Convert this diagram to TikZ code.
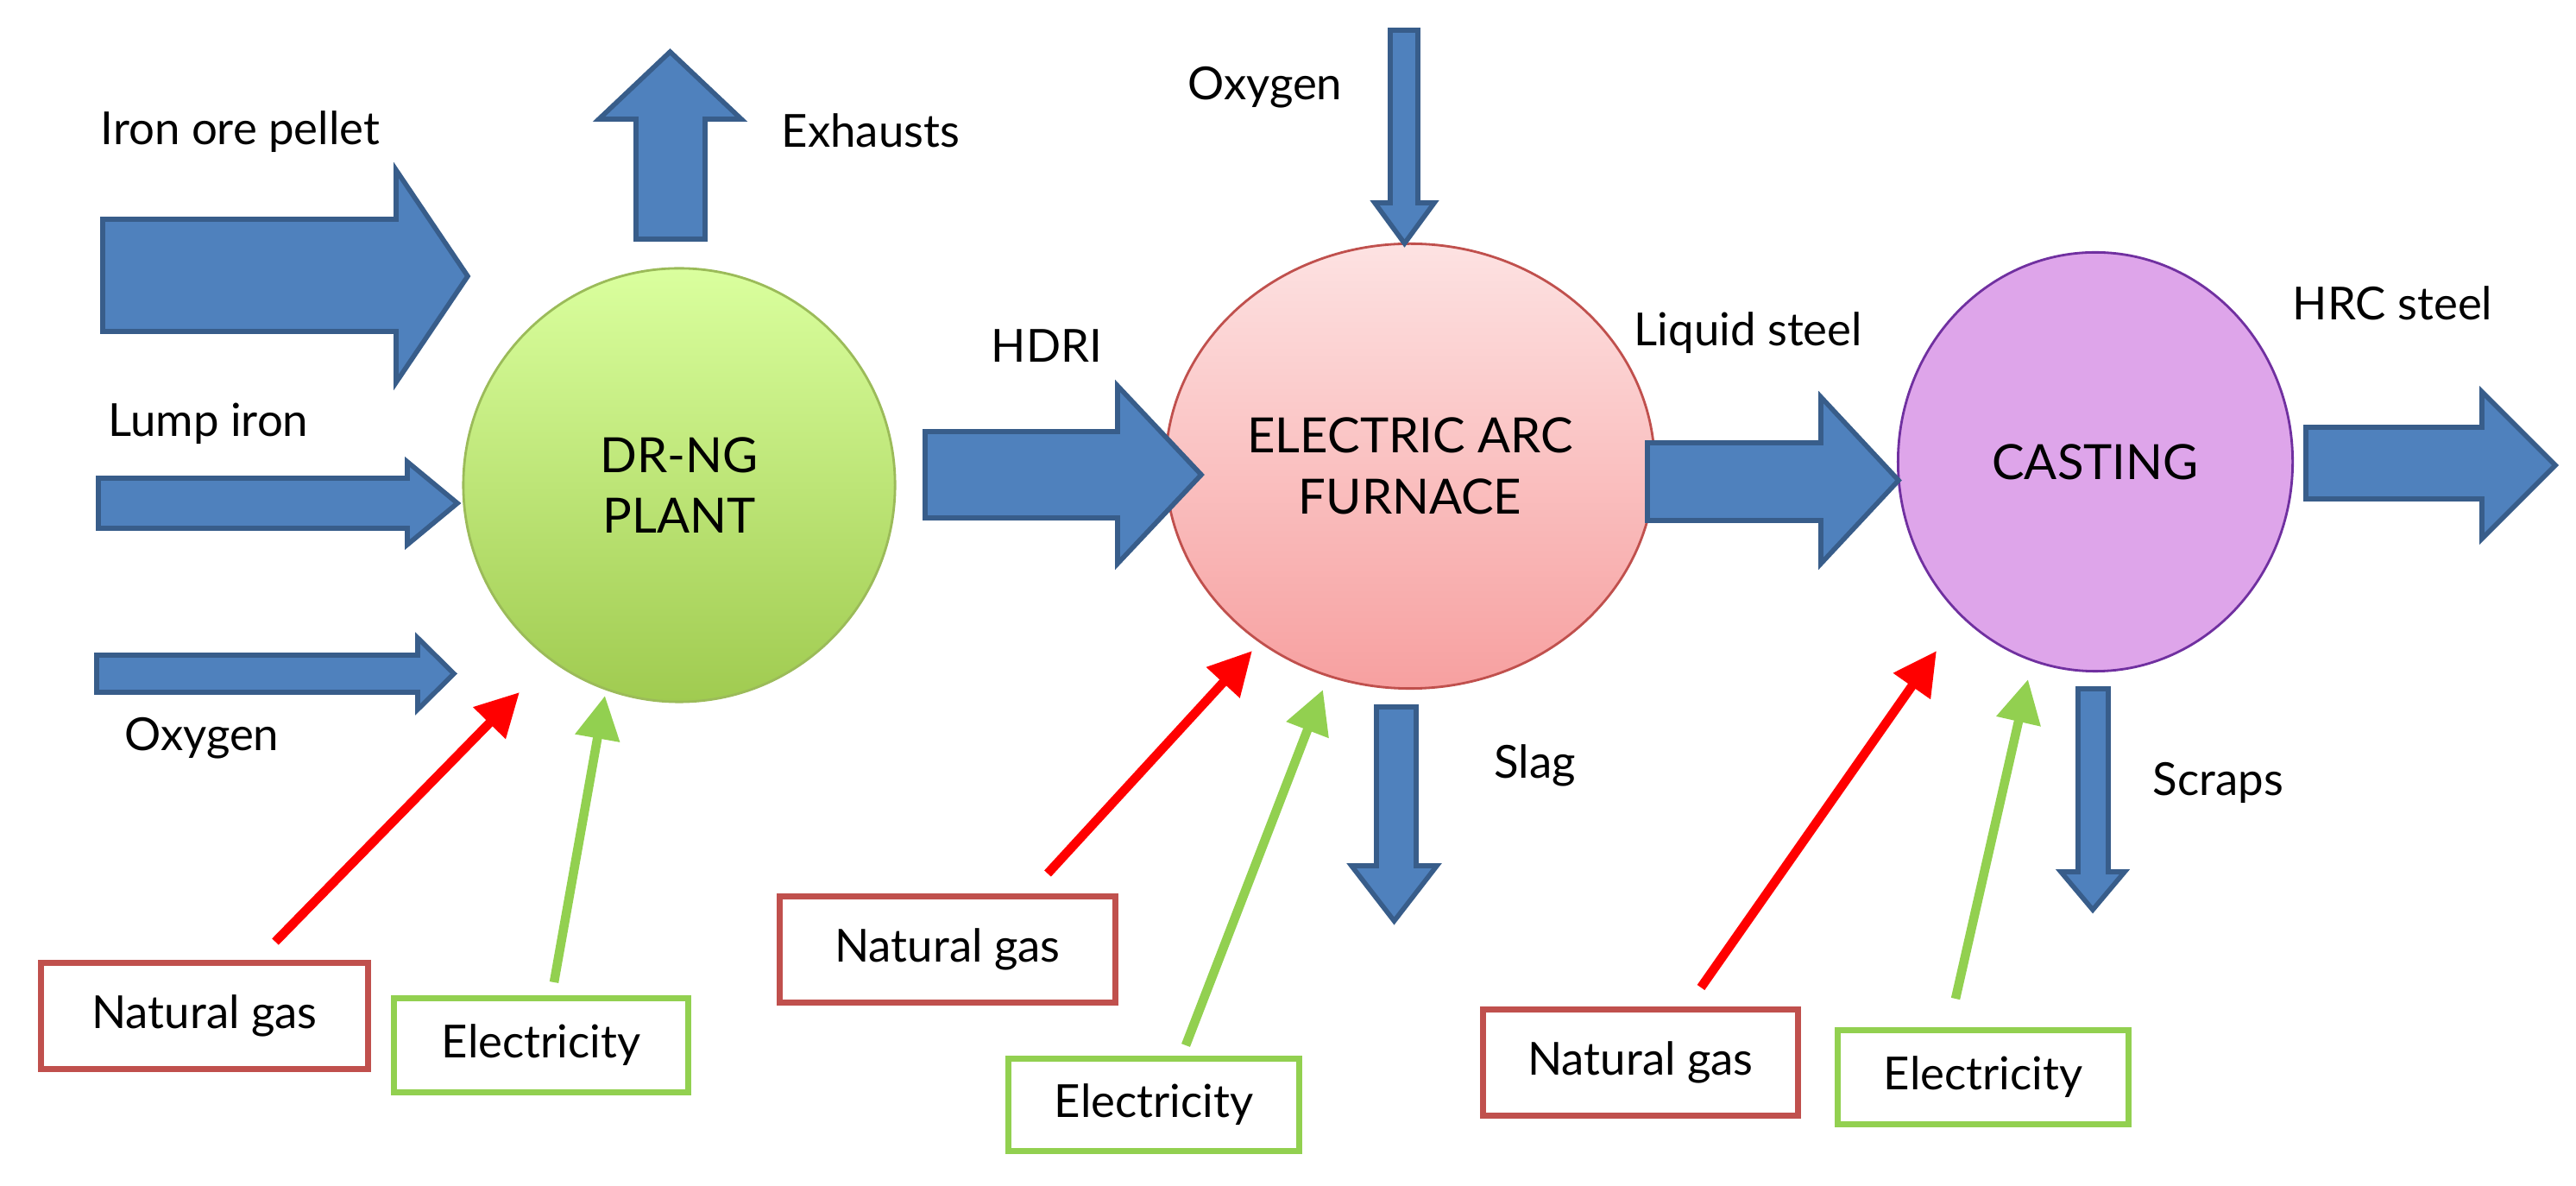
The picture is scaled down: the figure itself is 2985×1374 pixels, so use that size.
\documentclass[tikz,border=0pt]{standalone}
\usepackage{fontspec}
\setmainfont{Lato}
\usetikzlibrary{shapes.geometric,arrows.meta}
\definecolor{blkfill}{HTML}{4F81BD}
\definecolor{blkline}{HTML}{385D8A}
\definecolor{ngred}{HTML}{C0504D}
\definecolor{elgreen}{HTML}{92D050}
\newcommand{\myrarrow}[7]{% x0,y1,y2,xh,y3,y4,xt
  \draw[blk] (#1,#2) -- (#4,#2) -- (#4,#5) -- (#7,{(#5+#6)/2}) -- (#4,#6) -- (#4,#3) -- (#1,#3) -- cycle;}
\newcommand{\myvarrow}[7]{% y0,x1,x2,yh,x3,x4,yt
  \draw[blk] (#2,#1) -- (#2,#4) -- (#5,#4) -- ({(#5+#6)/2},#7) -- (#6,#4) -- (#3,#4) -- (#3,#1) -- cycle;}
\begin{document}
\begin{tikzpicture}[x=0.01cm,y=-0.01cm,
  blk/.style={fill=blkfill,draw=blkline,line width=1.6pt,line join=miter},
  lbl/.style={font=\fontsize{15}{18}\selectfont,inner sep=0pt},
  ctext/.style={font=\fontsize{16}{20}\selectfont,align=center},
  box/.style={draw,line width=2pt,minimum width=#1,inner sep=0pt,font=\fontsize{15}{18}\selectfont},
  ngbox/.style={box=#1,draw=ngred},
  elbox/.style={box=#1,draw=elgreen},
  ngarr/.style={draw=red,line width=3pt,-{Triangle[length=0.5cm,width=0.5cm]},fill=red},
  elarr/.style={draw=elgreen,line width=3pt,-{Triangle[length=0.5cm,width=0.5cm]},fill=elgreen}]
\useasboundingbox (0,0) rectangle (2985,1374);
% process circles
\node[ellipse,draw={rgb,255:red,155;green,187;blue,89},line width=0.8pt,top color={rgb,255:red,218;green,255;blue,158},bottom color={rgb,255:red,160;green,203;blue,80},minimum width=500\pgflinewidth*0+5cm,minimum height=5.02cm,ctext] (dr) at (787,562) {DR-NG\\PLANT};
\node[ellipse,draw=ngred,line width=0.8pt,top color={rgb,255:red,253;green,226;blue,226},bottom color={rgb,255:red,247;green,160;blue,160},minimum width=4.81cm,minimum height=5.15cm,ctext] (eaf) at (1634,540) {ELECTRIC ARC\\FURNACE};
\node[ellipse,draw={rgb,255:red,112;green,48;blue,160},line width=0.8pt,fill={rgb,255:red,222;green,165;blue,234},minimum width=4.57cm,minimum height=4.85cm,ctext] (cast) at (2428,535) {CASTING};
% block arrows
\myrarrow{119}{254}{384}{459}{197}{443}{542}
\myrarrow{114}{554}{612}{472}{535}{631}{530}
\myrarrow{112}{759}{802}{484}{739}{822}{526}
\myvarrow{277}{737}{817}{138}{694}{859}{60}
\myrarrow{1072}{500}{600}{1295}{447}{653}{1392}
\myvarrow{35}{1611}{1643}{235}{1593}{1662}{282}
\myrarrow{1909}{513}{603}{2110}{460}{653}{2200}
\myrarrow{2672}{495}{578}{2876}{454}{624}{2961}
\myvarrow{819}{1595}{1641}{1003}{1566}{1665}{1067}
\myvarrow{798}{2408}{2443}{1010}{2388}{2462}{1054}
% labels
\node[lbl,anchor=west] (l1) at (116,153) {Iron ore pellet};
\node[lbl,anchor=west] (l2) at (125,491) {Lump iron};
\node[lbl,anchor=west] (l3) at (144,855) {Oxygen};
\node[lbl,anchor=west] (l4) at (905,151) {Exhausts};
\node[lbl,anchor=west] (l5) at (1148,401) {HDRI};
\node[lbl,anchor=west] (l6) at (1376,101) {Oxygen};
\node[lbl,anchor=west] (l7) at (1893,386) {Liquid steel};
\node[lbl,anchor=west] (l8) at (2656,351) {HRC steel};
\node[lbl,anchor=west] (l9) at (1731,887) {Slag};
\node[lbl,anchor=west] (l10) at (2494,907) {Scraps};
% input boxes
\node[ngbox=3.78cm,minimum height=1.22cm] (ng1) at (237,1177) {Natural gas};
\node[elbox=3.41cm,minimum height=1.08cm] (el1) at (627,1211) {Electricity};
\node[ngbox=3.88cm,minimum height=1.22cm] (ng2) at (1098,1100) {Natural gas};
\node[elbox=3.37cm,minimum height=1.07cm] (el2) at (1337,1280) {Electricity};
\node[ngbox=3.64cm,minimum height=1.23cm] (ng3) at (1901,1231) {Natural gas};
\node[elbox=3.37cm,minimum height=1.09cm] (el3) at (2298,1248) {Electricity};
% thin arrows
\coordinate (a1s) at (319,1091); \coordinate (a1e) at (602,802);
\coordinate (b1s) at (642,1138); \coordinate (b1e) at (701,806);
\coordinate (a2s) at (1214,1012); \coordinate (a2e) at (1451,754);
\coordinate (b2s) at (1374,1211); \coordinate (b2e) at (1533,799);
\coordinate (a3s) at (1971,1144); \coordinate (a3e) at (2244,754);
\coordinate (b3s) at (2266,1157); \coordinate (b3e) at (2350,787);
\draw[ngarr] (a1s) -- (a1e);
\draw[elarr] (b1s) -- (b1e);
\draw[ngarr] (a2s) -- (a2e);
\draw[elarr] (b2s) -- (b2e);
\draw[ngarr] (a3s) -- (a3e);
\draw[elarr] (b3s) -- (b3e);
\end{tikzpicture}
\end{document}
